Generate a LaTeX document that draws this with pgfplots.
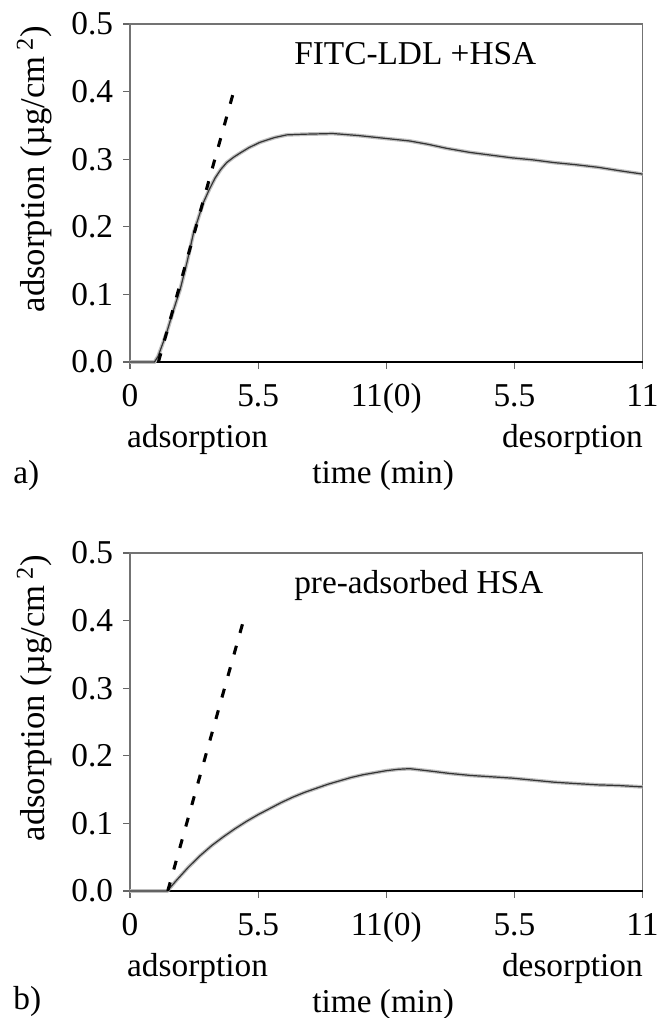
\documentclass[border=0pt]{standalone}
\usepackage{fontspec}
\setmainfont{Liberation Serif}
\usepackage{pgfplots}
\usepackage{pgfplotstable}
\pgfplotsset{compat=1.18}

\pgfplotsset{
  panel/.style={
    at={#1}, anchor=south west,
    scale only axis, width=384.4pt, height=253.5pt,
    xmin=0, xmax=22, ymin=0, ymax=0.5,
    xtick={0,5.5,11,16.5,22},
    xticklabels={0,5.5,11(0),5.5,11},
    ytick={0,0.1,0.2,0.3,0.4,0.5},
    yticklabels={0.0,0.1,0.2,0.3,0.4,0.5},
    tick align=outside, xtick pos=left, ytick pos=left,
    major tick length=5pt,
    tick style={draw=black!60, line width=0.8pt},
    axis line style={draw=black!55, line width=0.8pt},
    xticklabel style={anchor=base, inner sep=0pt, yshift=-28pt},
    yticklabel style={anchor=east, inner sep=0pt, xshift=-7.5pt},
    ylabel={adsorption (µg/cm\,\textsuperscript{2})},
    every axis y label/.style={at={(axis description cs:-0.186,0.57)}, rotate=90,
      anchor=center, font=\fontsize{26}{30}\selectfont},
    clip=false,
  },
  noisy/.style={draw=gray!50, line width=2.8pt},
  core/.style={draw=black!80, line width=0.9pt},
  slope/.style={draw=black, line width=2.3pt, dash pattern=on 6.75pt off 10pt},
}

\pgfplotstableread{
x y
0 0
1.05 0
1.2 0.008
1.35 0.022
1.57 0.043
1.85 0.075
2.15 0.107
2.45 0.148
2.72 0.19
3.14 0.235
3.4 0.255
3.65 0.272
3.9 0.285
4.15 0.295
4.45 0.303
4.72 0.309
5.1 0.317
5.58 0.325
6.2 0.332
6.73 0.336
7.5 0.337
8.7 0.338
9.8 0.335
10.9 0.331
12.0 0.327
12.8 0.322
13.6 0.316
14.6 0.310
15.5 0.306
16.4 0.302
17.3 0.299
18.2 0.295
19.1 0.292
20.1 0.288
21.0 0.283
22 0.278
}\ldlhsa

\pgfplotstableread{
x y
0 0
1.6 0
1.7 0.004
2.0 0.016
2.5 0.035
3.0 0.052
3.5 0.067
4.0 0.080
4.5 0.092
5.0 0.103
5.5 0.113
6.0 0.122
6.5 0.131
7.0 0.139
7.5 0.146
8.0 0.152
8.5 0.158
9.0 0.163
9.5 0.168
10.0 0.172
10.5 0.175
11.0 0.178
11.5 0.180
12.0 0.181
12.5 0.179
13.0 0.177
13.7 0.174
14.6 0.171
15.5 0.169
16.4 0.167
17.3 0.164
18.2 0.161
19.1 0.159
20.1 0.157
21.0 0.156
22 0.154
}\prehsa

\begin{document}
\begin{tikzpicture}[font=\fontsize{25}{30}\selectfont]
\useasboundingbox (0,0) rectangle (501.75pt,-763.5pt);

% a) FITC-LDL + HSA
\begin{axis}[panel={(97.5pt,-271.5pt)}]
\addplot[black, line width=1pt] coordinates {(0,0) (22,0)};
\addplot[noisy] table {\ldlhsa};
\addplot[core] table {\ldlhsa};
\addplot[slope] coordinates {(1.22,0) (4.45,0.40)};
\node[anchor=base west, inner sep=0pt] at (axis description cs:0.32,0.88) {FITC-LDL +HSA};
\node[anchor=base west, inner sep=0pt] at (axis description cs:-0.006,-0.254) {adsorption};
\node[anchor=base east, inner sep=0pt] at (axis description cs:1.001,-0.254) {desorption};
\node[anchor=base, inner sep=0pt] at (axis description cs:0.494,-0.358) {time (min)};
\node[anchor=base west, inner sep=0pt] at (axis description cs:-0.228,-0.36) {a)};
\end{axis}

% b) pre-adsorbed HSA
\begin{axis}[panel={(97.5pt,-668.25pt)}]
\addplot[black, line width=1.3pt] coordinates {(0,0) (22,0)};
\addplot[noisy] table {\prehsa};
\addplot[core] table {\prehsa};
\addplot[slope] coordinates {(1.62,0) (4.87,0.40)};
\node[anchor=base west, inner sep=0pt] at (axis description cs:0.32,0.88) {pre-adsorbed HSA};
\node[anchor=base west, inner sep=0pt] at (axis description cs:-0.006,-0.254) {adsorption};
\node[anchor=base east, inner sep=0pt] at (axis description cs:1.001,-0.254) {desorption};
\node[anchor=base, inner sep=0pt] at (axis description cs:0.494,-0.358) {time (min)};
\node[anchor=base west, inner sep=0pt] at (axis description cs:-0.228,-0.35) {b)};
\end{axis}
\end{tikzpicture}
\end{document}
